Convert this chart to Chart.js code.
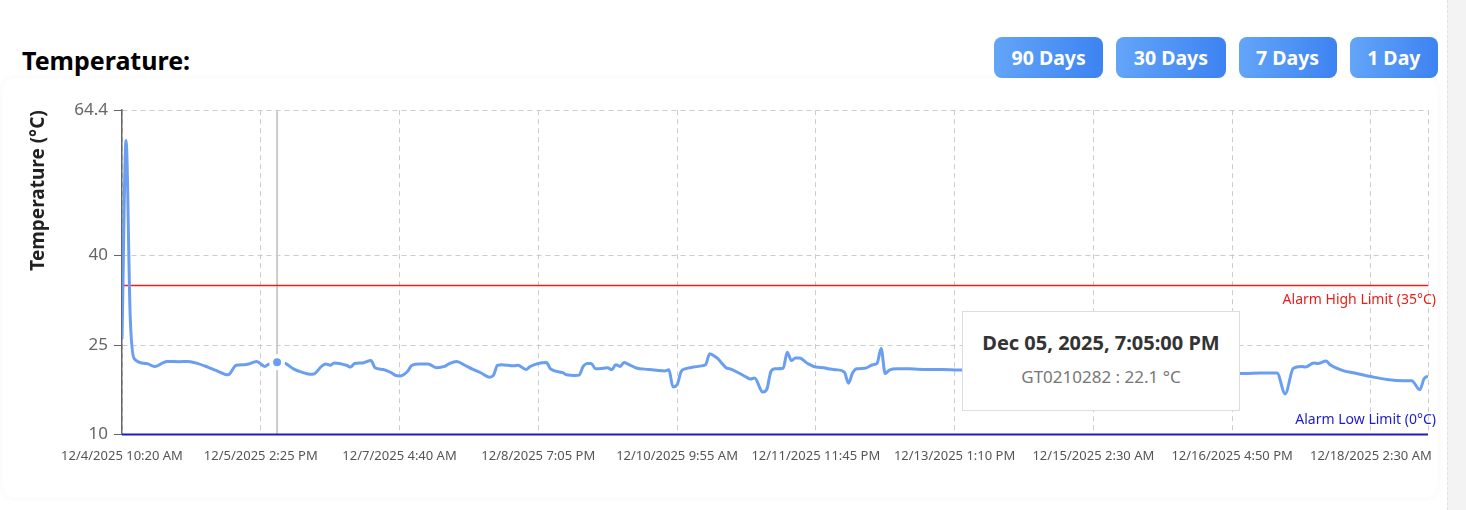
<!DOCTYPE html>
<html>
<head>
    <title>Temperature</title>
    <script src="https://cdn.jsdelivr.net/npm/chart.js"></script>
    <style>
        body { margin: 0; background: #fff; font-family: "Noto Sans", sans-serif; width: 1466px; height: 510px; overflow: hidden; position: relative; }
        .title { position: absolute; left: 22px; top: 42px; margin: 0; font-size: 25px; font-weight: bold; color: #000; line-height: 36px; }
        .ranges { position: absolute; left: 994px; top: 37px; display: flex; gap: 13px; }
        .ranges button {
            height: 41px; padding: 0 17.5px; border: none; border-radius: 8px;
            background: linear-gradient(90deg, #63a5f8, #3d83f2);
            color: #fff; font: bold 19.5px "Noto Sans", sans-serif;
        }
        .card { position: absolute; left: 2px; top: 78px; width: 1436px; height: 420px; border-radius: 14px; box-shadow: 0 0 6px rgba(0,0,0,0.04); }
        .chart-container { position: absolute; left: 0; top: 94px; width: 1446px; height: 390px; }
        .edge { position: absolute; left: 1447px; top: 0; width: 19px; height: 510px; background: #f3f3f3; border-left: 1px dashed #e2e2e2; }
        #tip {
            position: absolute; left: 962px; top: 311px; width: 276px; height: 98px;
            background: #fff; border: 1px solid #ddd; text-align: center; display: none;
        }
        #tip .t { font-weight: bold; font-size: 20px; color: #333; margin-top: 16px; line-height: 30px; }
        #tip .b { font-size: 17px; color: #777; margin-top: 4px; line-height: 30px; }
    </style>
</head>
<body>
    <h2 class="title">Temperature:</h2>
    <div class="ranges">
        <button>90 Days</button>
        <button>30 Days</button>
        <button>7 Days</button>
        <button>1 Day</button>
    </div>
    <div class="card"></div>
    <div class="chart-container">
        <canvas id="temperatureChart"></canvas>
    </div>
    <div id="tip"><div class="t"></div><div class="b"></div></div>
    <div class="edge"></div>

    <script>
        var sensorId = 'GT0210282';
        var tickEvery = 34;
        var tickLabels = ['12/4/2025 10:20 AM', '12/5/2025 2:25 PM', '12/7/2025 4:40 AM', '12/8/2025 7:05 PM', '12/10/2025 9:55 AM',
            '12/11/2025 11:45 PM', '12/13/2025 1:10 PM', '12/15/2025 2:30 AM', '12/16/2025 4:50 PM', '12/18/2025 2:30 AM'];
        var lastSample = 320;
        var yTicks = [10, 25, 40, 64.4];
        var alarmHigh = 35;
        var alarmLow = 0;
        var hoverSample = 38;
        var hoverTime = 'Dec 05, 2025, 7:05:00 PM';

        // sample number (reading order) and temperature
        var sampleNo = [0, 1, 2, 3, 6, 8, 10, 11, 14, 16, 18, 21, 23, 26, 28, 30, 31, 33, 35, 36,
            38, 40, 42, 44, 46, 47, 49, 50, 51, 52, 55, 56, 57, 59, 61, 62, 64, 66, 67, 68,
            70, 71, 73, 75, 77, 79, 80, 82, 84, 86, 88, 90, 91, 92, 93, 96, 97, 99, 100, 102,
            104, 105, 108, 109, 111, 112, 113, 114, 115, 116, 118, 119, 120, 121, 122, 123, 124, 126, 129, 131,
            133, 134, 135, 136, 137, 138, 140, 142, 143, 144, 145, 146, 148, 149, 151, 153, 154, 155, 157, 158,
            159, 160, 162, 163, 164, 165, 166, 168, 170, 172, 173, 175, 177, 178, 179, 180, 182, 184, 185, 186,
            187, 188, 190, 193, 197, 201, 205, 213, 221, 229, 237, 245, 253, 261, 268, 275, 279, 283, 285, 287,
            289, 290, 292, 293, 295, 296, 299, 302, 306, 310, 314, 316, 318, 319, 320];
        var temps = [26.0, 59.3, 30.0, 22.7, 21.9, 21.4, 22.0, 22.25, 22.2, 22.25, 22.0, 21.3, 20.75, 20.0, 21.6, 21.7, 21.8, 22.25, 21.4, 21.8,
            22.1, 21.9, 21.0, 20.45, 20.1, 20.15, 21.5, 21.8, 21.6, 22.0, 21.6, 21.3, 21.9, 22.0, 22.4, 21.2, 20.9, 20.35, 19.9, 19.8,
            20.6, 21.6, 21.8, 21.8, 21.2, 21.4, 21.8, 22.25, 21.6, 20.9, 20.3, 19.6, 19.9, 21.6, 21.7, 21.5, 21.6, 20.9, 21.4, 21.9,
            22.05, 21.0, 20.35, 20.0, 19.9, 19.95, 21.4, 21.9, 21.9, 21.0, 21.1, 21.2, 20.85, 21.7, 21.4, 22.05, 21.8, 21.15, 20.9, 20.75,
            20.65, 20.85, 17.95, 18.3, 20.55, 21.0, 21.3, 21.5, 21.7, 23.55, 23.2, 22.7, 21.2, 21.0, 20.35, 19.6, 19.3, 19.45, 17.1, 17.6,
            20.55, 21.0, 21.1, 23.8, 22.4, 22.8, 22.8, 21.9, 21.3, 21.2, 21.0, 20.85, 20.45, 18.6, 20.3, 21.0, 21.1, 21.7, 21.9, 24.4,
            20.2, 20.8, 21.0, 21.0, 20.9, 20.9, 20.8, 20.8, 20.7, 20.7, 20.6, 20.5, 20.4, 20.3, 20.2, 20.2, 20.3, 20.3, 16.8, 21.1,
            21.4, 21.3, 22.0, 21.9, 22.3, 21.7, 20.75, 20.3, 19.7, 19.2, 19.0, 19.0, 17.5, 19.3, 19.8];

        var limits = [
            { value: alarmHigh, label: 'Alarm High Limit (35°C)', color: '#e8201c', width: 1.5 },
            { value: alarmLow, label: 'Alarm Low Limit (0°C)', color: '#1c1ccc', width: 2 }
        ];

        var limitLines = {
            id: 'limitLines',
            beforeDatasetsDraw: function(chart) {
                var ctx = chart.ctx, area = chart.chartArea, y = chart.scales.y;
                ctx.save();
                // crosshair at the hovered point
                var act = chart.getActiveElements();
                if (act.length) {
                    ctx.strokeStyle = '#cccccc';
                    ctx.lineWidth = 2;
                    ctx.beginPath();
                    ctx.moveTo(act[0].element.x, area.top);
                    ctx.lineTo(act[0].element.x, area.bottom);
                    ctx.stroke();
                }
                ctx.font = '14px "Noto Sans"';
                ctx.textAlign = 'right';
                limits.forEach(function(l) {
                    var py = y.getPixelForValue(Math.max(l.value, y.min));
                    ctx.strokeStyle = l.color;
                    ctx.lineWidth = l.width;
                    ctx.beginPath();
                    ctx.moveTo(area.left, py);
                    ctx.lineTo(area.right, py);
                    ctx.stroke();
                    ctx.fillStyle = l.color;
                    ctx.textBaseline = 'middle';
                    if (py >= area.bottom - 1) {
                        ctx.fillText(l.label, area.right + 8, py - 14);
                    } else {
                        ctx.fillText(l.label, area.right + 8, py + 15);
                    }
                });
                ctx.restore();
            }
        };

        function showTip(context) {
            var tip = document.getElementById('tip');
            var model = context.tooltip;
            if (model.opacity === 0) { tip.style.display = 'none'; return; }
            tip.querySelector('.t').textContent = (model.title || []).join(' ');
            tip.querySelector('.b').textContent = model.body.map(function(b) { return b.lines.join(' '); }).join(' ');
            tip.style.display = 'block';
        }

        var ctx1 = document.getElementById('temperatureChart').getContext('2d');
        Chart.defaults.font.family = '"Noto Sans", sans-serif';

        var temperatureChart = new Chart(ctx1, {
            type: 'line',
            data: {
                datasets: [{
                    label: sensorId,
                    data: sampleNo.map(function(s, i) { return { x: s, y: temps[i] }; }),
                    borderColor: '#6a9ef0',
                    backgroundColor: '#6a9ef0',
                    borderWidth: 3,
                    cubicInterpolationMode: 'monotone',
                    pointRadius: 0,
                    pointHoverRadius: 6,
                    pointHoverBorderWidth: 4,
                    pointHoverBorderColor: '#ffffff',
                    pointHoverBackgroundColor: '#6a9ef0'
                }]
            },
            options: {
                responsive: true,
                maintainAspectRatio: false,
                animation: false,
                layout: { padding: { left: 0, right: 18, top: 4, bottom: 6 } },
                plugins: {
                    legend: { display: false },
                    tooltip: {
                        enabled: false,
                        external: showTip,
                        callbacks: {
                            title: function() { return hoverTime; },
                            label: function(c) { return sensorId + ' : ' + c.parsed.y + ' °C'; }
                        }
                    }
                },
                scales: {
                    x: {
                        type: 'linear',
                        min: 0,
                        max: lastSample,
                        border: { display: false, dash: [5, 4] },
                        grid: { color: '#cccccc', drawTicks: false },
                        ticks: {
                            stepSize: tickEvery,
                            autoSkip: false,
                            maxRotation: 0,
                            padding: 14,
                            color: '#555',
                            font: { size: 13 },
                            callback: function(v) {
                                return v % tickEvery === 0 ? tickLabels[v / tickEvery] : '';
                            }
                        }
                    },
                    y: {
                        min: yTicks[0],
                        max: yTicks[yTicks.length - 1],
                        afterBuildTicks: function(s) { s.ticks = yTicks.map(function(v) { return { value: v }; }); },
                        afterFit: function(s) { s.width = 122; },
                        border: { display: true, color: '#666', width: 1.5, dash: [5, 4] },
                        grid: { color: '#cccccc', tickColor: '#666', tickLength: 8 },
                        ticks: { color: '#666', font: { size: 17 }, padding: 6 },
                        title: {
                            display: true,
                            text: 'Temperature (°C)',
                            align: 'end',
                            color: '#222',
                            font: { size: 19, weight: 'bold' },
                            padding: { top: 27 }
                        }
                    }
                }
            },
            plugins: [limitLines]
        });

        var hoverIdx = sampleNo.indexOf(hoverSample);
        temperatureChart.setActiveElements([{ datasetIndex: 0, index: hoverIdx }]);
        temperatureChart.tooltip.setActiveElements([{ datasetIndex: 0, index: hoverIdx }], { x: 0, y: 0 });
        temperatureChart.update();
    </script>
</body>
</html>
